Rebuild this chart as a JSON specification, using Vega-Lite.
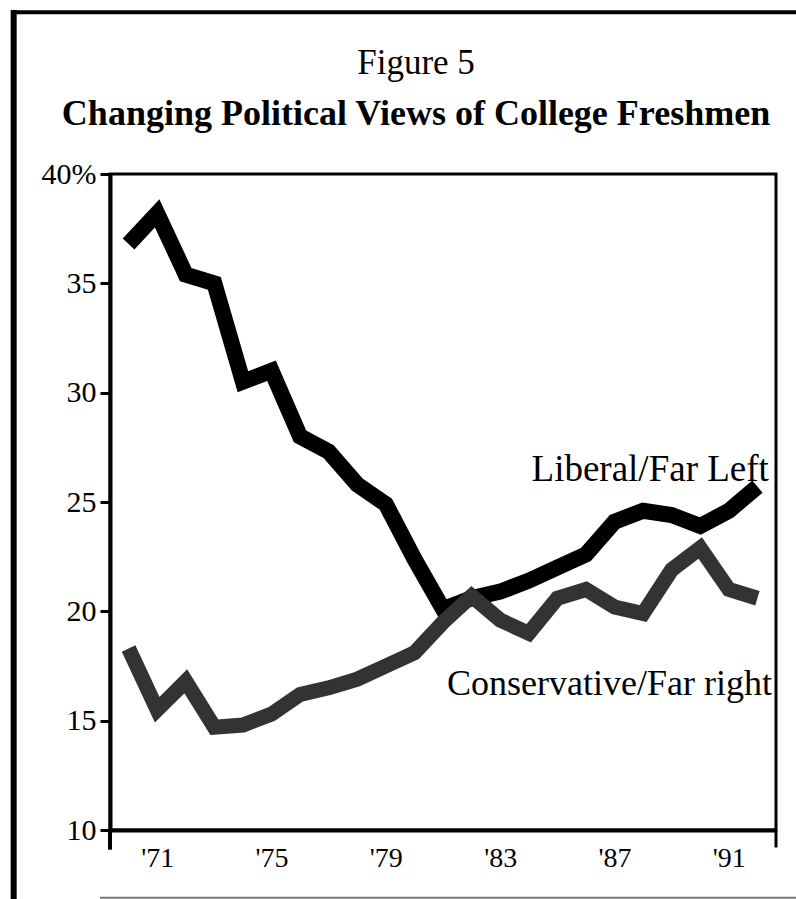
{
  "$schema": "https://vega.github.io/schema/vega-lite/v6.json",
  "width": 666,
  "height": 656,
  "autosize": {"type": "none"},
  "padding": {"left": 110, "top": 174, "right": 20, "bottom": 69},
  "background": "white",
  "config": {"view": {"stroke": "black", "strokeWidth": 3}, "font": "Liberation Serif"},
  "title": {
    "text": "Figure 5",
    "subtitle": "Changing Political Views of College Freshmen",
    "font": "Liberation Serif",
    "fontSize": 35,
    "fontWeight": "normal",
    "color": "black",
    "subtitleFont": "Liberation Serif",
    "subtitleFontSize": 36,
    "subtitleFontWeight": "bold",
    "subtitleColor": "black",
    "subtitlePadding": 16,
    "anchor": "middle",
    "frame": "group",
    "dx": -27,
    "offset": -125
  },
  "data": {"values": [
    {"year": 1970, "series": "Liberal/Far Left", "value": 36.8},
    {"year": 1971, "series": "Liberal/Far Left", "value": 38.2},
    {"year": 1972, "series": "Liberal/Far Left", "value": 35.4},
    {"year": 1973, "series": "Liberal/Far Left", "value": 35.0},
    {"year": 1974, "series": "Liberal/Far Left", "value": 30.5},
    {"year": 1975, "series": "Liberal/Far Left", "value": 31.0},
    {"year": 1976, "series": "Liberal/Far Left", "value": 28.0},
    {"year": 1977, "series": "Liberal/Far Left", "value": 27.3},
    {"year": 1978, "series": "Liberal/Far Left", "value": 25.8},
    {"year": 1979, "series": "Liberal/Far Left", "value": 24.9},
    {"year": 1980, "series": "Liberal/Far Left", "value": 22.4},
    {"year": 1981, "series": "Liberal/Far Left", "value": 20.1},
    {"year": 1982, "series": "Liberal/Far Left", "value": 20.6},
    {"year": 1983, "series": "Liberal/Far Left", "value": 20.9},
    {"year": 1984, "series": "Liberal/Far Left", "value": 21.4},
    {"year": 1985, "series": "Liberal/Far Left", "value": 22.0},
    {"year": 1986, "series": "Liberal/Far Left", "value": 22.6},
    {"year": 1987, "series": "Liberal/Far Left", "value": 24.1},
    {"year": 1988, "series": "Liberal/Far Left", "value": 24.6},
    {"year": 1989, "series": "Liberal/Far Left", "value": 24.4},
    {"year": 1990, "series": "Liberal/Far Left", "value": 23.9},
    {"year": 1991, "series": "Liberal/Far Left", "value": 24.6},
    {"year": 1992, "series": "Liberal/Far Left", "value": 25.7},
    {"year": 1970, "series": "Conservative/Far right", "value": 18.3},
    {"year": 1971, "series": "Conservative/Far right", "value": 15.5},
    {"year": 1972, "series": "Conservative/Far right", "value": 16.8},
    {"year": 1973, "series": "Conservative/Far right", "value": 14.7},
    {"year": 1974, "series": "Conservative/Far right", "value": 14.8},
    {"year": 1975, "series": "Conservative/Far right", "value": 15.3},
    {"year": 1976, "series": "Conservative/Far right", "value": 16.2},
    {"year": 1977, "series": "Conservative/Far right", "value": 16.5},
    {"year": 1978, "series": "Conservative/Far right", "value": 16.9},
    {"year": 1979, "series": "Conservative/Far right", "value": 17.5},
    {"year": 1980, "series": "Conservative/Far right", "value": 18.1},
    {"year": 1981, "series": "Conservative/Far right", "value": 19.5},
    {"year": 1982, "series": "Conservative/Far right", "value": 20.7},
    {"year": 1983, "series": "Conservative/Far right", "value": 19.6},
    {"year": 1984, "series": "Conservative/Far right", "value": 19.0},
    {"year": 1985, "series": "Conservative/Far right", "value": 20.6},
    {"year": 1986, "series": "Conservative/Far right", "value": 21.0},
    {"year": 1987, "series": "Conservative/Far right", "value": 20.2},
    {"year": 1988, "series": "Conservative/Far right", "value": 19.9},
    {"year": 1989, "series": "Conservative/Far right", "value": 21.9},
    {"year": 1990, "series": "Conservative/Far right", "value": 22.9},
    {"year": 1991, "series": "Conservative/Far right", "value": 21.0},
    {"year": 1992, "series": "Conservative/Far right", "value": 20.6}
  ]},
  "layer": [
    {
      "mark": {"type": "line", "strokeJoin": "miter"},
      "encoding": {
        "x": {
          "field": "year", "type": "quantitative",
          "scale": {"domain": [1969.35, 1992.65], "nice": false, "zero": false},
          "axis": {
            "values": [1971, 1975, 1979, 1983, 1987, 1991],
            "labelExpr": "\"'\" + (datum.value % 100)",
            "ticks": false, "grid": false, "title": null,
            "domainColor": "black", "domainWidth": 4,
            "labelFont": "Liberation Serif", "labelFontSize": 28, "labelColor": "black",
            "labelPadding": 14, "labelFlush": false, "labelOverlap": false
          }
        },
        "y": {
          "field": "value", "type": "quantitative",
          "scale": {"domain": [10, 40], "nice": false, "zero": false},
          "axis": {
            "values": [10, 15, 20, 25, 30, 35, 40],
            "labelExpr": "datum.value == 40 ? '40%' : datum.label",
            "tickSize": 10, "tickWidth": 3, "tickColor": "black",
            "grid": false, "title": null,
            "domainColor": "black", "domainWidth": 4,
            "labelFont": "Liberation Serif", "labelFontSize": 30, "labelColor": "black",
            "labelPadding": 4, "labelFlush": false, "labelOverlap": false
          }
        },
        "color": {
          "field": "series", "type": "nominal",
          "scale": {"domain": ["Liberal/Far Left", "Conservative/Far right"], "range": ["#000000", "#333333"]},
          "legend": null
        },
        "strokeWidth": {
          "field": "series", "type": "nominal",
          "scale": {"domain": ["Liberal/Far Left", "Conservative/Far right"], "range": [16, 15]},
          "legend": null
        }
      }
    },
    {
      "data": {"values": [{}]},
      "mark": {"type": "text", "align": "right", "baseline": "alphabetic", "font": "Liberation Serif", "fontSize": 37, "color": "black", "text": "Liberal/Far Left"},
      "encoding": {"x": {"datum": 1992.4, "type": "quantitative"}, "y": {"datum": 25.96, "type": "quantitative"}}
    },
    {
      "data": {"values": [{}]},
      "mark": {"type": "text", "align": "right", "baseline": "alphabetic", "font": "Liberation Serif", "fontSize": 36, "color": "black", "text": "Conservative/Far right"},
      "encoding": {"x": {"datum": 1992.51, "type": "quantitative"}, "y": {"datum": 16.17, "type": "quantitative"}}
    },
    {
      "data": {"values": [{}]},
      "mark": {"type": "rule", "color": "black", "strokeWidth": 6},
      "encoding": {"x": {"datum": 1965.98, "type": "quantitative"}, "y": {"datum": 47.5, "type": "quantitative"}, "y2": {"datum": 6.8}}
    },
    {
      "data": {"values": [{}]},
      "mark": {"type": "rule", "color": "black", "strokeWidth": 4},
      "encoding": {"y": {"datum": 47.4, "type": "quantitative"}, "x": {"datum": 1965.9, "type": "quantitative"}, "x2": {"datum": 1994.0}}
    },
    {
      "data": {"values": [{}]},
      "mark": {"type": "rule", "color": "#777777", "strokeWidth": 2},
      "encoding": {"y": {"datum": 6.9, "type": "quantitative"}, "x": {"datum": 1969.0, "type": "quantitative"}, "x2": {"datum": 1994.0}}
    },
    {
      "data": {"values": [{}]},
      "mark": {"type": "rule", "color": "black", "strokeWidth": 4},
      "encoding": {"x": {"datum": 1969.35, "type": "quantitative"}, "y": {"datum": 10, "type": "quantitative"}, "y2": {"datum": 9.1}}
    },
    {
      "data": {"values": [{}]},
      "mark": {"type": "rule", "color": "black", "strokeWidth": 3},
      "encoding": {"x": {"datum": 1992.65, "type": "quantitative"}, "y": {"datum": 10, "type": "quantitative"}, "y2": {"datum": 9.2}}
    }
  ]
}
